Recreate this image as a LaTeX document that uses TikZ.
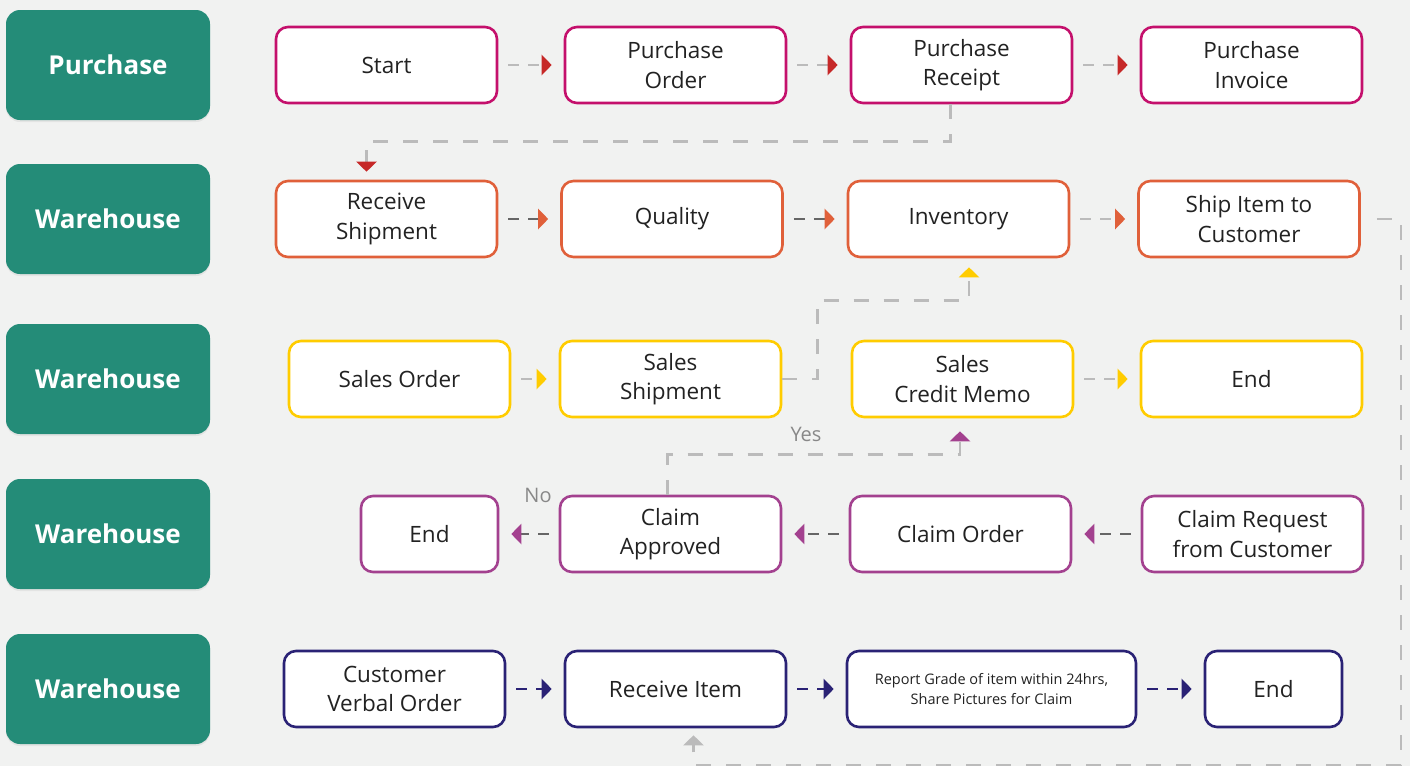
\documentclass[tikz,border=0pt]{standalone}
\usepackage{fontspec}
\setmainfont{Open Sans}
\usetikzlibrary{arrows.meta,shadows}

\definecolor{bgpaper}{HTML}{F1F2F1}
\definecolor{lanegreen}{HTML}{248C78}
\definecolor{cmag}{HTML}{C4106C}
\definecolor{cred}{HTML}{C62828}
\definecolor{corange}{HTML}{E0603A}
\definecolor{cyellow}{HTML}{FFCC00}
\definecolor{cpurple}{HTML}{A3418F}
\definecolor{cnavy}{HTML}{2A2275}
\definecolor{txtdark}{HTML}{222222}
\definecolor{lightdash}{HTML}{BBBBBB}
\definecolor{darkdash}{HTML}{666666}
\definecolor{labelgray}{HTML}{888888}

\tikzset{
  lane/.style={fill=lanegreen, rounded corners=14pt, minimum width=204pt,
    minimum height=110pt, text=white, inner sep=0pt,
    font=\fontsize{26}{30}\selectfont\bfseries,
    drop shadow={opacity=0.12, shadow xshift=0pt, shadow yshift=-2pt}},
  box/.style={draw=#1, line width=2.6pt, fill=white, rounded corners=12pt,
    minimum width=221pt, minimum height=76pt, align=center, inner sep=0pt,
    text=txtdark, font=\fontsize{22.5}{29.5}\selectfont},
  flow/.style={line width=2.6pt, dash pattern=on 11pt off 9pt,
    shorten <=10pt, shorten >=12pt},
  conn/.style={line width=2.6pt, draw=lightdash, dash pattern=on 15pt off 15pt},
  tipto/.style={-{Triangle[length=10pt,width=20pt,color=#1]}},
  tag/.style={text=labelgray, font=\fontsize{20}{24}\selectfont}
}

\begin{document}
\begin{tikzpicture}[x=1pt,y=-1pt]
\useasboundingbox (0,0) rectangle (1410,766);
\fill[bgpaper] (0,0) rectangle (1410,766);

% swimlane labels
\node[lane] (l1) at (108,65)  {Purchase};
\node[lane] (l2) at (108,219) {Warehouse};
\node[lane] (l3) at (108,379) {Warehouse};
\node[lane] (l4) at (108,534) {Warehouse};
\node[lane] (l5) at (108,689) {Warehouse};

% purchase lane
\node[box=cmag] (start)    at (386.5,65)  {Start};
\node[box=cmag] (porder)   at (675.5,65)  {Purchase\\Order};
\node[box=cmag] (preceipt) at (961.5,65)  {Purchase\\Receipt};
\node[box=cmag] (pinvoice) at (1251.5,65) {Purchase\\Invoice};

% receiving lane
\node[box=corange] (rship)   at (386.5,219)  {Receive\\Shipment};
\node[box=corange] (quality) at (672,219)    {Quality};
\node[box=corange] (inv)     at (958.5,219)  {Inventory};
\node[box=corange] (shipit)  at (1249,219)   {Ship Item to\\Customer};

% sales lane
\node[box=cyellow] (sorder) at (399.5,379)  {Sales Order};
\node[box=cyellow] (sship)  at (670.5,379)  {Sales\\Shipment};
\node[box=cyellow] (scredit) at (962.5,379) {Sales\\Credit Memo};
\node[box=cyellow] (send)   at (1251.5,379) {End};

% claims lane
\node[box=cpurple, minimum width=137pt] (cend) at (429.5,534) {End};
\node[box=cpurple] (capp)   at (670.5,534)  {Claim\\Approved};
\node[box=cpurple] (corder) at (960.5,534)  {Claim Order};
\node[box=cpurple] (creq)   at (1252.5,534) {Claim Request\\from Customer};

% customer lane
\node[box=cnavy] (verbal) at (394.5,689) {Customer\\Verbal Order};
\node[box=cnavy] (ritem)  at (675.5,689) {Receive Item};
\node[box=cnavy, minimum width=289pt, font=\fontsize{14.5}{20}\selectfont]
  (report) at (991.5,689) {Report Grade of item within 24hrs,\\Share Pictures for Claim};
\node[box=cnavy, minimum width=137pt] (vend) at (1273.5,689) {End};

% straight flows
\draw[flow, lightdash, tipto=cred] (start) -- (porder);
\draw[flow, lightdash, tipto=cred] (porder) -- (preceipt);
\draw[flow, lightdash, tipto=cred] (preceipt) -- (pinvoice);

\draw[flow, darkdash, tipto=corange] (rship) -- (quality);
\draw[flow, darkdash, tipto=corange] (quality) -- (inv);
\draw[flow, lightdash, tipto=corange] (inv) -- (shipit);

\draw[flow, lightdash, tipto=cyellow] (sorder) -- (sship);
\draw[flow, lightdash, tipto=cyellow] (scredit) -- (send);

\draw[flow, darkdash, tipto=cpurple] (creq) -- (corder);
\draw[flow, darkdash, tipto=cpurple] (corder) -- (capp);
\draw[flow, darkdash, tipto=cpurple] (capp) -- (cend);

\draw[flow, cnavy, tipto=cnavy] (verbal) -- (ritem);
\draw[flow, cnavy, tipto=cnavy] (ritem) -- (report);
\draw[flow, cnavy, tipto=cnavy] (report) -- (vend);

% routed connectors
\draw[conn, tipto=cred, shorten >=8pt]
  ([xshift=-11pt]preceipt.south) -- ++(0,37) -| ([xshift=-20pt]rship.north);
\draw[conn, tipto=cyellow, shorten >=9pt]
  (sship.east) -- ++(35,0) |- ([xshift=10.5pt,yshift=-42pt]inv.south)
  -- ([xshift=10.5pt]inv.south);
\draw[conn, tipto=cpurple, shorten >=13pt]
  ([xshift=-3pt]capp.north) -- ++(0,-40) -| ([xshift=-2.5pt]scredit.south);
\draw[conn, tipto=lightdash, shorten >=7pt]
  ([xshift=16pt]shipit.east) -- ++(24,0) -- ++(0,546) -| ([xshift=18pt]ritem.south);

% decision labels
\node[tag] (yes) at (806,434) {Yes};
\node[tag] (no)  at (538,495) {No};
\end{tikzpicture}
\end{document}
